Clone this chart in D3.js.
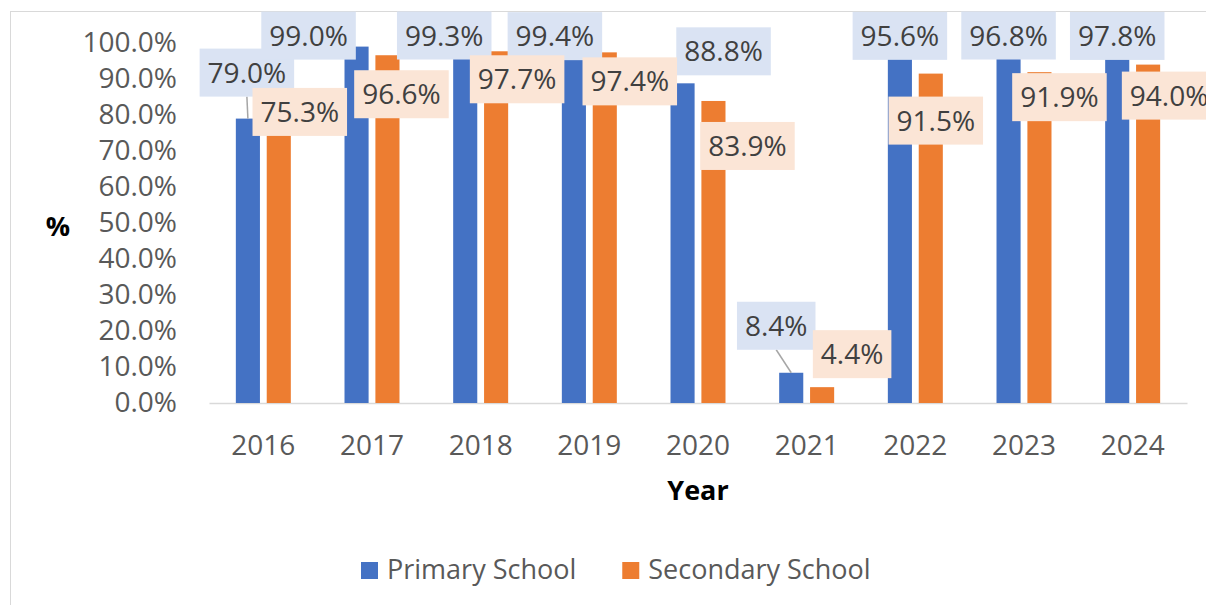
<!DOCTYPE html>
<html lang="en">
    <head>
        <meta charset="utf-8">
        <script src="https://cdn.jsdelivr.net/npm/d3@7"></script>
        <style type="text/css">
        body {
          margin: 0;
          background: #fff;
        }
        svg text {
          font-family: "Open Sans", sans-serif;
        }
        </style>
    </head>
    <body>
        <script>
          // chart data
          var years = ["2016", "2017", "2018", "2019", "2020", "2021", "2022", "2023", "2024"];
          var primary = [79.0, 99.0, 99.3, 99.4, 88.8, 8.4, 95.6, 96.8, 97.8];
          var secondary = [75.3, 96.6, 97.7, 97.4, 83.9, 4.4, 91.5, 91.9, 94.0];
          var seriesNames = ["Primary School", "Secondary School"];
          var yTicks = [0, 10, 20, 30, 40, 50, 60, 70, 80, 90, 100];

          // label boxes were dragged around by hand: [dx, dy] from the bar top centre
          var primaryNudge = [[-1, -46], [-48, -11], [-21, -10], [-19, -9], [41, -32], [-15, -47], [0, -23], [0, -19], [0, -15]];
          var secondaryNudge = [[21, -20], [14, 39], [21, 28], [25, 29], [34, 45], [30, -33], [5, 47], [20, 25], [21, 31]];
          var primaryLeader = [true, false, false, false, false, true, false, false, false];

          var w = 1206;
          var h = 605;
          var fontSize = 28;
          var colours = ["#4472c4", "#ed7d31"];
          var boxColours = ["#dae3f3", "#fbe5d6"];

          var svg = d3.select("body")
                      .append("svg")
                      .attr("width", w)
                      .attr("height", h);

          // chart border (only left and top are in the picture)
          svg.append("line").attr("x1", 10.5).attr("x2", 10.5).attr("y1", 11).attr("y2", h)
             .attr("stroke", "#d9d9d9");
          svg.append("line").attr("x1", 10).attr("x2", w).attr("y1", 11.5).attr("y2", 11.5)
             .attr("stroke", "#d9d9d9");

          var x0 = d3.scaleBand()
                     .domain(years)
                     .range([209, 1187])
                     .paddingInner(0.494)
                     .paddingOuter(0.247);

          var x1 = d3.scaleBand()
                     .domain([0, 1])
                     .range([0, x0.bandwidth()])
                     .paddingInner(0.22);

          var y = d3.scaleLinear()
                    .domain([0, 100])
                    .range([403, 43]);

          // y axis, labels only
          var yAxis = svg.append("g")
              .attr("transform", "translate(209,0)")
              .call(d3.axisLeft(y).tickValues(yTicks).tickSize(0).tickPadding(32)
                      .tickFormat(function(d) { return d.toFixed(1) + "%"; }));
          yAxis.select(".domain").remove();
          yAxis.selectAll("text")
               .attr("font-size", fontSize)
               .attr("fill", "#595959")
               .style("font-family", "Open Sans");

          // x axis
          var xAxis = svg.append("g")
              .attr("transform", "translate(0,403)")
              .call(d3.axisBottom(x0).tickSize(0).tickPadding(32));
          xAxis.select(".domain").attr("stroke", "#d9d9d9").attr("stroke-width", 1.5);
          xAxis.selectAll("text")
               .attr("font-size", fontSize)
               .attr("fill", "#595959")
               .style("font-family", "Open Sans");

          // axis titles
          svg.append("text")
             .attr("x", 58).attr("y", 236)
             .attr("text-anchor", "middle")
             .attr("font-size", 27).attr("font-weight", "bold")
             .attr("fill", "#000")
             .text("%");
          svg.append("text")
             .attr("x", 698).attr("y", 500)
             .attr("text-anchor", "middle")
             .attr("font-size", 27).attr("font-weight", "bold")
             .attr("fill", "#000")
             .text("Year");

          var series = [primary, secondary];
          var nudges = [primaryNudge, secondaryNudge];

          // bars
          series.forEach(function(values, s) {
            svg.append("g").selectAll("rect")
               .data(values)
               .enter()
               .append("rect")
               .attr("x", function(d, i) { return x0(years[i]) + x1(s); })
               .attr("y", function(d) { return y(d); })
               .attr("width", x1.bandwidth())
               .attr("height", function(d) { return y(0) - y(d); })
               .attr("fill", colours[s]);
          });

          // leader lines for the moved primary labels
          primary.forEach(function(v, i) {
            if (!primaryLeader[i]) return;
            var bx = x0(years[i]) + x1(0) + x1.bandwidth() / 2;
            var cx = bx + primaryNudge[i][0];
            var cy = y(v) + primaryNudge[i][1];
            svg.append("line")
               .attr("x1", cx).attr("y1", cy + 24)
               .attr("x2", bx).attr("y2", y(v))
               .attr("stroke", "#a6a6a6")
               .attr("stroke-width", 1.5);
          });

          // data labels with filled boxes (the 2024 one runs off the right edge, as in the original)
          series.forEach(function(values, s) {
            values.forEach(function(v, i) {
              var bx = x0(years[i]) + x1(s) + x1.bandwidth() / 2;
              var cx = bx + nudges[s][i][0];
              var cy = y(v) + nudges[s][i][1];
              var g = svg.append("g");
              var box = g.append("rect").attr("fill", boxColours[s]);
              var t = g.append("text")
                       .attr("x", cx).attr("y", cy)
                       .attr("dy", "0.36em")
                       .attr("text-anchor", "middle")
                       .attr("font-size", fontSize)
                       .attr("fill", "#404040")
                       .text(v.toFixed(1) + "%");
              var tw = t.node().getComputedTextLength();
              box.attr("x", cx - tw / 2 - 8)
                 .attr("y", cy - 24)
                 .attr("width", tw + 16)
                 .attr("height", 48);
            });
          });

          // legend
          var lx = 361;
          seriesNames.forEach(function(name, s) {
            svg.append("rect")
               .attr("x", lx).attr("y", 562)
               .attr("width", 17).attr("height", 17)
               .attr("fill", colours[s]);
            var t = svg.append("text")
               .attr("x", lx + 26).attr("y", 579)
               .attr("font-size", 27)
               .attr("fill", "#595959")
               .text(name);
            lx = lx + 26 + t.node().getComputedTextLength() + 46;
          });
        </script>
    </body>
</html>
